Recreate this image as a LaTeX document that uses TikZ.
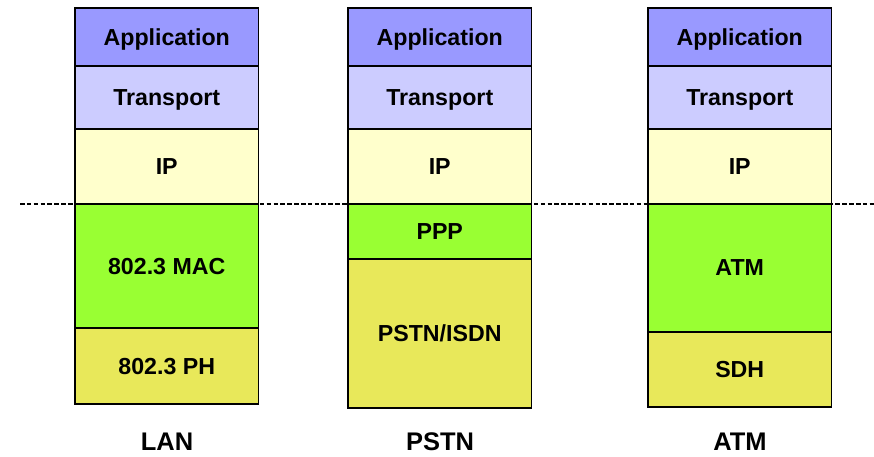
\documentclass[tikz,border=0pt]{standalone}
\usepackage{fontspec}
\setmainfont{Liberation Sans}
\usetikzlibrary{positioning}
\definecolor{appcol}{HTML}{9999FF}
\definecolor{transcol}{HTML}{CCCCFF}
\definecolor{ipcol}{HTML}{FFFFCC}
\definecolor{linkcol}{HTML}{99FF33}
\definecolor{physcol}{HTML}{E8E85A}
\begin{document}
\begin{tikzpicture}[x=0.02cm, y=-0.02cm, node distance=0pt,
		layer/.style={draw, line width=1pt, inner sep=0pt, outer sep=0pt, minimum width=3.67cm,
			text depth=0pt, font=\fontsize{13.2}{15}\selectfont\bfseries},
		stacklabel/.style={font=\fontsize{14.5}{17}\selectfont\bfseries}]
			\useasboundingbox (0,0) rectangle (874,456);
			\coordinate (DL) at (20,204);
			\coordinate (DR) at (874,204);
			\draw[line width=1.1pt, dash pattern=on 2.6pt off 1.3pt] (DL) -- (DR);
			
			% LAN
			\node[layer, fill=appcol, minimum height=58*0.02cm, anchor=north west] (L1) at (75,8) {Application};
			\node[layer, fill=transcol, minimum height=63*0.02cm] (L2) [below = of L1] {Transport};
			\node[layer, fill=ipcol, minimum height=75*0.02cm] (L3) [below = of L2] {IP};
			\node[layer, fill=linkcol, minimum height=124*0.02cm] (L4) [below = of L3] {802.3 MAC};
			\node[layer, fill=physcol, minimum height=76*0.02cm] (L5) [below = of L4] {802.3 PH};
			
			% PSTN
			\node[layer, fill=appcol, minimum height=58*0.02cm, anchor=north west] (P1) at (348,8) {Application};
			\node[layer, fill=transcol, minimum height=63*0.02cm] (P2) [below = of P1] {Transport};
			\node[layer, fill=ipcol, minimum height=75*0.02cm] (P3) [below = of P2] {IP};
			\node[layer, fill=linkcol, minimum height=55*0.02cm] (P4) [below = of P3] {PPP};
			\node[layer, fill=physcol, minimum height=149*0.02cm] (P5) [below = of P4] {PSTN/ISDN};
			
			% ATM
			\node[layer, fill=appcol, minimum height=58*0.02cm, anchor=north west] (A1) at (648,8) {Application};
			\node[layer, fill=transcol, minimum height=63*0.02cm] (A2) [below = of A1] {Transport};
			\node[layer, fill=ipcol, minimum height=75*0.02cm] (A3) [below = of A2] {IP};
			\node[layer, fill=linkcol, minimum height=128*0.02cm] (A4) [below = of A3] {ATM};
			\node[layer, fill=physcol, minimum height=75*0.02cm] (A5) [below = of A4] {SDH};
			
			\node[stacklabel] (LAN) at (167,442) {LAN};
			\node[stacklabel] (PSTN) at (440,442) {PSTN};
			\node[stacklabel] (ATM) at (740,442) {ATM};
\end{tikzpicture}
\end{document}
